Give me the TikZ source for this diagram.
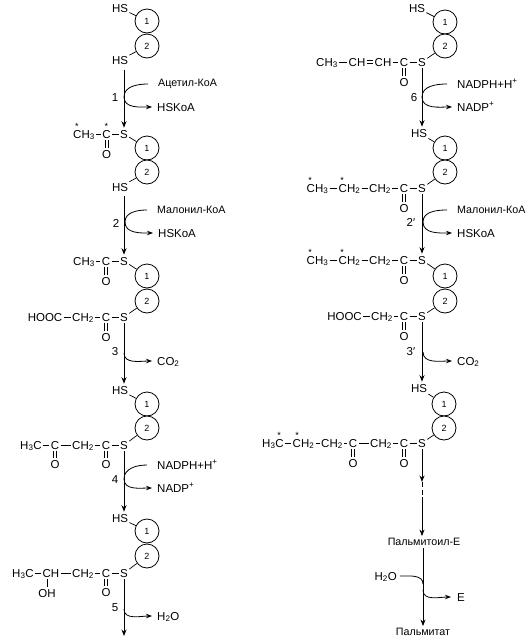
\documentclass[tikz,border=0pt]{standalone}
\usepackage{fontspec}
\setmainfont{Liberation Sans}
\usetikzlibrary{arrows.meta}
\tikzset{
	atom/.style={font=\fontsize{11.5}{12}\selectfont, inner xsep=1.2pt, inner ysep=2pt, text height=8.2pt, text depth=0pt},
	lbl/.style={atom, anchor=west, inner xsep=5pt},
	rulabel/.style={font=\fontsize{10.7}{11}\selectfont, inner xsep=5pt, inner ysep=2pt, anchor=west},
	astr/.style={font=\fontsize{9}{9}\selectfont, inner sep=0pt},
	enz/.style={circle, draw, line width=0.8pt, minimum size=24pt, inner sep=0pt, font=\fontsize{9}{9}\selectfont, fill=white},
	bond/.style={line width=0.7pt},
	rxn/.style={-{Stealth[length=6.5pt,width=5pt]}, line width=0.9pt},
	side/.style={line width=0.8pt},
	sidear/.style={side, -{Stealth[length=6pt,width=4.5pt]}}
}
\begin{document}
\begin{tikzpicture}[x=1pt, y=-1pt]
	\useasboundingbox (0,0) rectangle (531,643);
	
	% 1. Enzyme pairs
	\foreach \n/\x/\ya/\yb in {e1/147/21/46, e2/147/148/172, e3/147/276/301, e4/147/404/428, e5/147/531/556,
		e6/445/22/46, e7/445/148/172, e8/445/276/301, e9/444/404/428} {
		\node[enz] (\n a) at (\x,\ya) {1};
		\node[enz] (\n b) at (\x,\yb) {2};
	}
	
	% 2. Left column: formulas
	\foreach \n/\x/\y/\t in {hs1t/120/8/HS, hs1b/120/60/HS,
		r2a/84/134/CH\textsubscript{3}, r2c/106.5/134/C, r2s/124/134/S, r2o/106.5/154/O, hs2/120/187/HS,
		r3a/84/261/CH\textsubscript{3}, r3c/106/261/C, r3s/124/261/S, r3o/106/281/O,
		r4a/45/317/HOOC, r4b/83/317/CH\textsubscript{2}, r4c/106/317/C, r4s/124/317/S, r4o/106/337/O,
		hs4/120/390/HS,
		r5a/31/445/H\textsubscript{3}C, r5b/55/445/C, r5o/55/464/O, r5d/83/445/CH\textsubscript{2}, r5c/106/445/C, r5s/124/445/S, r5p/106/464/O,
		hs5/120/518/HS,
		r6a/23/573/H\textsubscript{3}C, r6b/51/573/CH, r6h/47/593/OH, r6d/83/573/CH\textsubscript{2}, r6c/106/573/C, r6s/124/573/S, r6o/106/592/O} {
		\node[atom] (\n) at (\x,\y) {\t};
	}
	
	% 3. Right column: formulas
	\foreach \n/\x/\y/\t in {hs6/417/8/HS,
		r7a/327/62/CH\textsubscript{3}, r7b/357/62/CH, r7d/383/62/CH, r7c/404/62/C, r7s/422/62/S, r7o/404/82/O,
		hs7/419/133/HS,
		r8a/317.5/188/CH\textsubscript{3}, r8b/349.5/188/CH\textsubscript{2}, r8d/380/188/CH\textsubscript{2}, r8c/404/188/C, r8s/422/188/S, r8o/404/208/O,
		r9a/317.5/260/CH\textsubscript{3}, r9b/349.5/260/CH\textsubscript{2}, r9d/380/260/CH\textsubscript{2}, r9c/404/260/C, r9s/422/260/S, r9o/404/280/O,
		r10a/344.5/316/HOOC, r10b/382/316/CH\textsubscript{2}, r10c/404/316/C, r10s/422/316/S, r10o/404/336/O,
		hs9/419/388/HS,
		r11a/273/443/H\textsubscript{3}C, r11b/303.5/443/CH\textsubscript{2}, r11d/332/443/CH\textsubscript{2}, r11e/353/443/C, r11o/353/463/O,
		r11f/381/443/CH\textsubscript{2}, r11c/404/443/C, r11s/422/443/S, r11p/404/463/O} {
		\node[atom] (\n) at (\x,\y) {\t};
	}
	
	% 4. Labelled carbons
	\foreach \n/\x/\y in {st1/77/126.5, st2/106.5/126.5, st3/310/180.5, st4/342/180.5, st5/310/252.5, st6/342/252.5, st7/279/435.5, st8/297/435.5} {
		\node[astr] (\n) at (\x,\y) {*};
	}
	
	% 5. Bonds
	\foreach \a/\b in {hs1t/e1a, hs1b/e1b, r2s/e2a, hs2/e2b, r3s/e3a, r4s/e3b, hs4/e4a, r5s/e4b, hs5/e5a, r6s/e5b,
		hs6/e6a, r7s/e6b, hs7/e7a, r8s/e7b, r9s/e8a, r10s/e8b, hs9/e9a, r11s/e9b,
		r2a/r2c, r2c/r2s, r3a/r3c, r3c/r3s, r4a/r4b, r4b/r4c, r4c/r4s, r5a/r5b, r5b/r5d, r5d/r5c, r5c/r5s,
		r6a/r6b, r6b/r6d, r6d/r6c, r6c/r6s,
		r7a/r7b, r7d/r7c, r7c/r7s, r8a/r8b, r8b/r8d, r8d/r8c, r8c/r8s, r9a/r9b, r9b/r9d, r9d/r9c, r9c/r9s,
		r10a/r10b, r10b/r10c, r10c/r10s, r11a/r11b, r11b/r11d, r11d/r11e, r11e/r11f, r11f/r11c, r11c/r11s} {
		\draw[bond] (\a) -- (\b);
	}
	\foreach \a/\b in {r2c/r2o, r3c/r3o, r4c/r4o, r5b/r5o, r5c/r5p, r6c/r6o, r7c/r7o, r8c/r8o, r9c/r9o, r10c/r10o, r11e/r11o, r11c/r11p} {
		\draw[bond] ([xshift=-1.5pt]\a.south) -- ([xshift=-1.5pt]\b.north);
		\draw[bond] ([xshift=1.5pt]\a.south) -- ([xshift=1.5pt]\b.north);
	}
	\draw[bond] ([yshift=-1.4pt]r7b.east) -- ([yshift=-1.4pt]r7d.west);
	\draw[bond] ([yshift=1.4pt]r7b.east) -- ([yshift=1.4pt]r7d.west);
	\draw[bond] ([xshift=-4pt]r6b.south) -- (r6h.north);
	
	% 6. Main arrows
	\coordinate (end5) at (124,636);
	\coordinate (d1) at (422,482);
	\coordinate (d2) at (422,500);
	\draw[rxn] ([shift={(4,4)}]hs1b.south) -- (r2s.north);
	\draw[rxn] ([shift={(4,3)}]hs2.south) -- (r3s.north);
	\draw[rxn] (r4s.south) -- ([xshift=4pt]hs4.north);
	\draw[rxn] (r5s.south) -- ([xshift=4pt]hs5.north);
	\draw[rxn] (r6s.south) -- (end5);
	\draw[rxn] (r7s.south) -- ([xshift=3pt]hs7.north);
	\draw[rxn] (r8s.south) -- (r9s.north);
	\draw[rxn] (r10s.south) -- ([xshift=3pt]hs9.north);
	\draw[rxn] (r11s.south) -- (d1);
	\draw[line width=0.9pt, dash pattern=on 5pt off 2.5pt] (d1) -- (d2);
	
	% 7. Step numbers
	\foreach \n/\x/\y/\t in {n1/115/97/1, n2/116/223/2, n3/115/351/3, n4/115/479/4, n5/115/607/5, n6/414/97/6,
		n7/411/222/2′, n8/411/351/3′} {
		\node[atom] (\n) at (\x,\y) {\t};
	}
	
	% 8. Side substrates and products
	\node[rulabel] (in1) at (153,84) {Ацетил-КоА};
	\node[lbl] (out1) at (152,107) {HSKoA};
	\node[rulabel] (in2) at (152,210) {Малонил-КоА};
	\node[lbl] (out2) at (153,233) {HSKoA};
	\node[lbl] (out3) at (152,361) {CO\textsubscript{2}};
	\node[lbl] (in4) at (152,465) {NADPH+H\textsuperscript{+}};
	\node[lbl] (out4) at (152,488) {NADP\textsuperscript{+}};
	\node[lbl] (out5) at (152,616) {H\textsubscript{2}O};
	\node[lbl] (in6) at (452,84) {NADPH+H\textsuperscript{+}};
	\node[lbl] (out6) at (452,107) {NADP\textsuperscript{+}};
	\node[rulabel] (in7) at (452,210) {Малонил-КоА};
	\node[lbl] (out7) at (452,233) {HSKoA};
	\node[lbl] (out8) at (452,361) {CO\textsubscript{2}};
	
	\foreach \n/\x/\y in {j1/124/97, j2/125/222, j3/124/353, j4/124/479, j5/124/609, j6/422/97, j7/423/222, j8/423/352} {
		\coordinate (\n) at (\x,\y);
	}
	\foreach \n in {1,2,4,6,7} {
		\draw[side] ([xshift=-5pt]in\n.west) to[out=180, in=90] (j\n);
	}
	\foreach \n in {1,2,3,4,5,6,7,8} {
		\draw[sidear] (j\n) to[out=-90, in=180] (out\n.west);
	}
	
	% 9. Last step
	\node[rulabel, anchor=center, inner xsep=0pt] (pe) at (424,542) {Пальмитоил-Е};
	\node[rulabel, anchor=center, inner xsep=0pt] (pt) at (423,632) {Пальмитат};
	\node[atom, anchor=east, inner xsep=3pt] (wat) at (400,576) {H\textsubscript{2}O};
	\node[lbl, inner xsep=6pt] (enzp) at (451,597) {Е};
	\coordinate (j9) at (423,584);
	\coordinate (j10) at (423,590);
	\draw[rxn] (d2) -- ([xshift=-2pt]pe.north);
	\draw[rxn] ([xshift=-1pt]pe.south) -- (pt.north);
	\draw[side] (wat.east) to[out=0, in=90] (j9);
	\draw[sidear] (j10) to[out=-90, in=180] (enzp.west);
\end{tikzpicture}
\end{document}
